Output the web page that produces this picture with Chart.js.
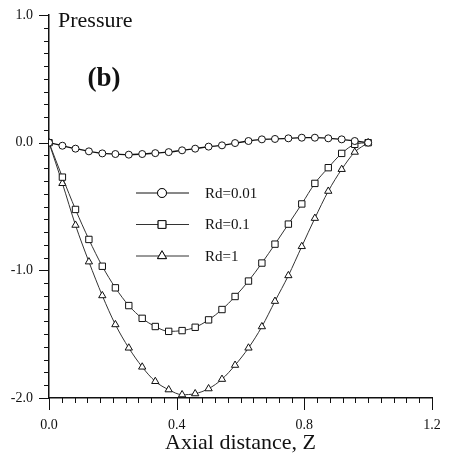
<!DOCTYPE html>
<html>
<head>
<meta charset="utf-8">
<script src="https://cdn.jsdelivr.net/npm/chart.js@4.4.1/dist/chart.umd.min.js"></script>
<style>
  html, body { margin: 0; padding: 0; background: #fff; }
  canvas { display: block; }
</style>
</head>
<body>
<canvas id="pressure-chart" width="456" height="466"></canvas>
<script>
// Axial distance Z at each computed node
const zValues = [0, 0.042, 0.083, 0.125, 0.167, 0.208, 0.25, 0.292, 0.333, 0.375, 0.417, 0.458, 0.5,
  0.542, 0.583, 0.625, 0.667, 0.708, 0.75, 0.792, 0.833, 0.875, 0.917, 0.958, 1.0];

// Pressure for each Rd
const pressureRd001 = [0, -0.024, -0.047, -0.068, -0.084, -0.089, -0.094, -0.089, -0.082, -0.074, -0.06, -0.047, -0.031,
  -0.021, -0.003, 0.013, 0.026, 0.029, 0.034, 0.039, 0.039, 0.034, 0.026, 0.013, 0];
const pressureRd01 = [0, -0.27, -0.523, -0.758, -0.968, -1.137, -1.276, -1.376, -1.44, -1.478, -1.472, -1.446, -1.388,
  -1.307, -1.205, -1.084, -0.943, -0.795, -0.638, -0.48, -0.319, -0.196, -0.084, -0.013, 0];
const pressureRd1 = [0, -0.319, -0.646, -0.933, -1.198, -1.425, -1.608, -1.757, -1.87, -1.935, -1.974, -1.966, -1.927,
  -1.853, -1.743, -1.608, -1.441, -1.242, -1.041, -0.813, -0.592, -0.38, -0.209, -0.074, 0];

const seriesLabels = ['Rd=0.01', 'Rd=0.1', 'Rd=1'];
const xTickLabels = [0, 0.4, 0.8, 1.2];
const yTickLabels = [-2, -1, 0, 1];
const xMinorStep = 0.04;
const yMinorStep = 0.1;

const serif = "'Liberation Serif', 'Times New Roman', serif";
const ink = '#111';

function toPoints(values) {
  return values.map((y, i) => ({ x: zValues[i], y: y }));
}

// small ticks along both axes, longer at the labelled ones
const axisTicks = {
  id: 'axisTicks',
  afterDraw(chart) {
    const { ctx, chartArea, scales: { x, y } } = chart;
    ctx.save();
    ctx.strokeStyle = ink;
    ctx.lineWidth = 1;
    ctx.beginPath();
    const nx = Math.round((x.max - x.min) / xMinorStep);
    for (let i = 0; i <= nx; i++) {
      const v = x.min + i * xMinorStep;
      const px = Math.round(x.getPixelForValue(v)) + 0.5;
      const major = xTickLabels.some((t) => Math.abs(t - v) < 1e-6);
      ctx.moveTo(px, chartArea.bottom);
      ctx.lineTo(px, chartArea.bottom + (major ? 12 : 5));
    }
    const ny = Math.round((y.max - y.min) / yMinorStep);
    for (let i = 0; i <= ny; i++) {
      const v = y.min + i * yMinorStep;
      const py = Math.round(y.getPixelForValue(v)) + 0.5;
      const major = yTickLabels.some((t) => Math.abs(t - v) < 1e-6);
      ctx.moveTo(chartArea.left, py);
      ctx.lineTo(chartArea.left - (major ? 10 : 5), py);
    }
    ctx.stroke();
    ctx.restore();
  },
};

// legend inside the plot + the panel texts
const panelText = {
  id: 'panelText',
  afterDraw(chart) {
    const { ctx } = chart;
    ctx.save();
    ctx.fillStyle = ink;
    ctx.textBaseline = 'alphabetic';
    ctx.textAlign = 'left';
    ctx.font = '22px ' + serif;
    ctx.fillText('Pressure', 58, 27);
    ctx.font = 'bold 27px ' + serif;
    ctx.textAlign = 'center';
    ctx.fillText('(b)', 104, 86);

    chart.data.datasets.forEach((ds, i) => {
      const ly = 193 + i * 31.5;
      ctx.strokeStyle = ds.borderColor;
      ctx.lineWidth = 1;
      ctx.beginPath();
      ctx.moveTo(136, ly);
      ctx.lineTo(189, ly);
      ctx.stroke();
      ctx.fillStyle = '#fff';
      ctx.strokeStyle = ink;
      Chart.helpers.drawPoint(ctx, {
        pointStyle: ds.pointStyle,
        radius: ds.pointRadius + 1,
        rotation: 0,
        borderWidth: 1,
      }, 162, ly);
      ctx.fill();
      ctx.stroke();
      ctx.fillStyle = ink;
      ctx.textAlign = 'left';
      ctx.textBaseline = 'middle';
      ctx.font = '15px ' + serif;
      ctx.fillText(ds.label, 205, ly + 1);
    });
    ctx.restore();
  },
};

const pointStyles = ['circle', 'rect', 'triangle'];
const pointSizes = [3.5, 4.5, 4.2];
const lineColors = ['#111', '#333', '#333'];
const lineWidths = [1.3, 1, 1];

new Chart(document.getElementById('pressure-chart'), {
  type: 'line',
  data: {
    datasets: [pressureRd001, pressureRd01, pressureRd1].map((values, i) => ({
      label: seriesLabels[i],
      data: toPoints(values),
      borderColor: lineColors[i],
      borderWidth: lineWidths[i],
      pointStyle: pointStyles[i],
      pointRadius: pointSizes[i],
      pointBackgroundColor: '#fff',
      pointBorderColor: ink,
      pointBorderWidth: 1,
      cubicInterpolationMode: 'monotone',
      fill: false,
    })),
  },
  options: {
    responsive: false,
    animation: false,
    layout: {
      padding: { top: 15, right: 24, left: 0, bottom: 0 },
    },
    plugins: {
      legend: { display: false },
      tooltip: { enabled: false },
    },
    scales: {
      x: {
        type: 'linear',
        min: 0,
        max: 1.2,
        afterBuildTicks: (scale) => {
          scale.ticks = xTickLabels.map((v) => ({ value: v }));
        },
        afterFit: (scale) => {
          scale.height = 68;
          scale.paddingLeft = 0;
          scale.paddingRight = 0;
        },
        grid: { display: false, drawTicks: false },
        border: { display: true, color: ink, width: 1.5 },
        ticks: {
          color: ink,
          padding: 19,
          maxRotation: 0,
          autoSkip: false,
          font: { family: serif, size: 14 },
          callback: (v) => Number(v).toFixed(1),
        },
        title: {
          display: true,
          text: 'Axial distance, Z',
          color: ink,
          font: { family: serif, size: 22 },
          padding: { top: 0, bottom: 10 },
        },
      },
      y: {
        min: -2,
        max: 1,
        afterBuildTicks: (scale) => {
          scale.ticks = yTickLabels.map((v) => ({ value: v }));
        },
        afterFit: (scale) => {
          scale.width = 49;
          scale.paddingTop = 0;
          scale.paddingBottom = 0;
        },
        grid: { display: false, drawTicks: false },
        border: { display: true, color: ink, width: 1.5 },
        ticks: {
          color: ink,
          padding: 16,
          font: { family: serif, size: 14 },
          callback: (v) => Number(v).toFixed(1),
        },
      },
    },
  },
  plugins: [axisTicks, panelText],
});
</script>
</body>
</html>
